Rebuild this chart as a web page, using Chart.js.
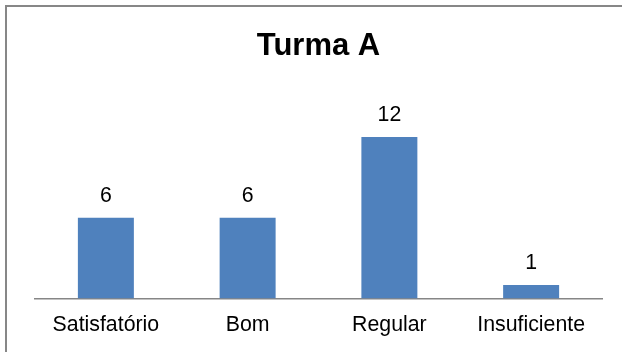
<!DOCTYPE html>
<html>
<head>
<meta charset="utf-8">
<script src="https://cdn.jsdelivr.net/npm/chart.js@4/dist/chart.umd.min.js"></script>
<style>
  html, body { margin: 0; padding: 0; background: #fff; overflow: hidden; }
  #wrap { width: 622px; height: 352px; }
</style>
</head>
<body>
<div id="wrap"><canvas id="c" width="622" height="352"></canvas></div>
<script>
const categories = ['Satisfatório', 'Bom', 'Regular', 'Insuficiente'];
const alunos = [6, 6, 12, 1];
const titulo = 'Turma A';

const FONT = '"Liberation Sans", Arial, sans-serif';

// frame: white background plus grey top/left edge
const framePlugin = {
  id: 'frame',
  beforeDraw(chart) {
    const ctx = chart.ctx;
    ctx.save();
    ctx.fillStyle = '#ffffff';
    ctx.fillRect(0, 0, chart.width, chart.height);
    ctx.fillStyle = '#878787';
    ctx.fillRect(5, 5, chart.width - 5, 2);
    ctx.fillRect(5, 5, 2, chart.height - 5);
    ctx.restore();
  }
};

// value labels above each bar
const valueLabels = {
  id: 'valueLabels',
  afterDatasetsDraw(chart) {
    const ctx = chart.ctx;
    const meta = chart.getDatasetMeta(0);
    ctx.save();
    ctx.font = '21.3px ' + FONT;
    ctx.fillStyle = '#000';
    ctx.textAlign = 'center';
    ctx.textBaseline = 'middle';
    meta.data.forEach((bar, i) => {
      ctx.fillText(String(chart.data.datasets[0].data[i]), bar.x, bar.y - 22);
    });
    ctx.restore();
  }
};

new Chart(document.getElementById('c'), {
  type: 'bar',
  data: {
    labels: categories,
    datasets: [{
      data: alunos,
      backgroundColor: '#4F81BD',
      borderWidth: 0,
      categoryPercentage: 1,
      barPercentage: 0.395
    }]
  },
  options: {
    responsive: false,
    animation: false,
    devicePixelRatio: 1,
    layout: { padding: { left: 35, right: 20, top: 0, bottom: 0 } },
    plugins: {
      legend: { display: false },
      tooltip: { enabled: false },
      title: {
        display: true,
        text: titulo,
        color: '#000',
        font: { family: FONT, size: 31, weight: 'bold' },
        padding: { top: 28, bottom: 45 }
      }
    },
    scales: {
      x: {
        grid: { display: false, drawTicks: false },
        border: { display: true, color: '#868686', width: 1.5 },
        ticks: {
          color: '#000',
          font: { family: FONT, size: 21.3 },
          padding: 14,
          maxRotation: 0,
          autoSkip: false
        }
      },
      y: {
        display: false,
        min: 0,
        max: 14
      }
    }
  },
  plugins: [framePlugin, valueLabels]
});
</script>
</body>
</html>
